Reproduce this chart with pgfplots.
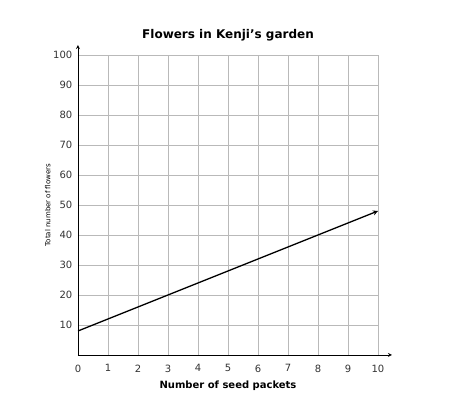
\documentclass[border=0pt]{standalone}
\usepackage{pgfplots}
\pgfplotsset{compat=1.18}
\usepackage{fontspec}
\setmainfont{DejaVu Sans}
\begin{document}
\begin{tikzpicture}
\begin{axis}[
  scale only axis, width=300pt, height=300pt,
  xmin=0, xmax=10, ymin=0, ymax=100,
  axis lines=left,
  x axis line style={-stealth, thick, shorten >=-14pt},
  y axis line style={-stealth, thick, shorten >=-10pt},
  xtick={0,...,10}, ytick={10,20,...,100},
  grid=both, grid style={gray!55, line width=0.9pt},
  tick style={draw=none},
  ticklabel style={font=\fontsize{10}{12}\selectfont, text=black!80},
  /pgf/number format/assume math mode=true,
  xticklabel style={yshift=-4pt},
  title={\bfseries Flowers in Kenji's garden},
  title style={font=\fontsize{12}{14}\selectfont, yshift=4pt},
  xlabel={\bfseries Number of seed packets},
  xlabel style={font=\fontsize{10}{12}\selectfont, yshift=-2pt},
  ylabel={Total number of flowers},
  ylabel style={font=\fontsize{7}{9}\selectfont, yshift=-4pt},
]
\addplot[black, line width=1.3pt, -stealth] coordinates {(0,8) (10,48)};
\end{axis}
\path[use as bounding box] (-78pt,-58pt) rectangle (373pt,355pt);
\end{tikzpicture}
\end{document}
